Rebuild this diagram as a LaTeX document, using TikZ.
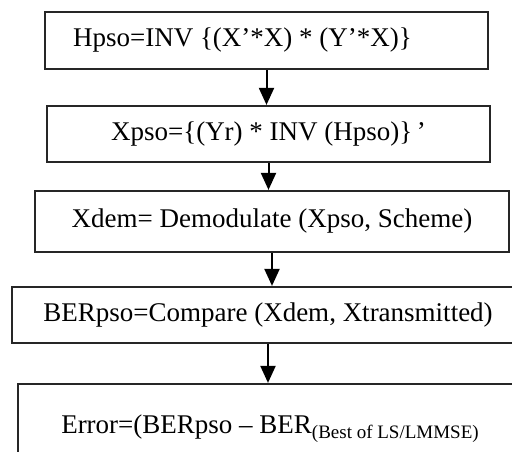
\documentclass[tikz,border=0pt]{standalone}
\usepackage{fontspec}
\setmainfont{Liberation Serif}
\usetikzlibrary{arrows.meta}

\begin{document}
\begin{tikzpicture}[box/.style={draw=black!85, line width=2.2pt, inner sep=0pt, minimum height=#1}, x=1pt, y=-1pt,
    >={Triangle[length=17pt, width=15pt]},   %Pfeilspitzen
    font=\fontsize{27}{32}\selectfont]
    %Bildbereich
    \useasboundingbox (0,0) rectangle (512,451);
    \clip (0,0) rectangle (512,451);
    %Kaesten zeichnen
    \node[box=57pt, minimum width=443pt] (hpso) at (266.5,40.5) {\raisebox{7pt}{Hpso=INV \{(X’*X) * (Y’*X)\}}\hspace*{48pt}};
    \node[box=56pt, minimum width=443pt] (xpso) at (268.5,134) {Xpso=\{(Yr) * INV (Hpso)\}\,’};
    \node[box=61pt, minimum width=474pt] (xdem) at (272,221.5) {Xdem= Demodulate (Xpso, Scheme)};
    \node[box=56pt, minimum width=512pt] (berpso) at (268,315) {BERpso=Compare (Xdem, Xtransmitted)};
    \node[box=90pt, minimum width=504pt] (error) at (270,429) {Error=(BERpso – BER\raisebox{-5pt}{\fontsize{19}{22}\selectfont(Best of LS/LMMSE)}};
    %Pfeile zeichnen
    \draw[->, line width=2pt] (hpso.south) -- (hpso.south |- xpso.north);
    \draw[->, line width=2pt] (xpso.south) -- (xpso.south |- xdem.north);
    \draw[->, line width=2pt] (xdem.south) -- (xdem.south |- berpso.north);
    \draw[->, line width=2pt] (berpso.south) -- (berpso.south |- error.north);
\end{tikzpicture}
\end{document}
